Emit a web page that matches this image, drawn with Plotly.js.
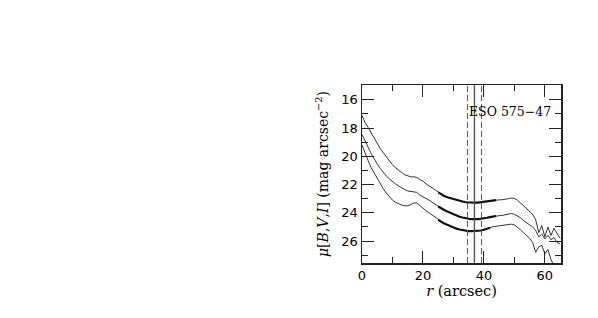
<!DOCTYPE html>
<html>
<head>
<meta charset="utf-8">
<script src="https://cdn.plot.ly/plotly-3.0.1.min.js"></script>
<style>
  html, body { margin: 0; padding: 0; background: #fff; }
  #profile { width: 598px; height: 318px; }
</style>
</head>
<body>
<div id="profile"></div>
<script>
// radius in arcsec, one sample per arcsec
var radius = [0,1,2,3,4,5,6,7,8,9,10,11,12,13,14,15,16,17,18,19,20,21,22,23,24,25,26,27,28,29,30,
    31,32,33,34,35,36,37,38,39,40,41,42,43,44,45,46,47,48,49,50,51,52,53,54,55,56,57,58,59,60,61,62,63,64,65];

// surface brightness profiles (mag arcsec^-2), top to bottom on the plot
var muI = [17.1,17.6,17.95,18.35,18.75,19.1,19.45,19.75,20.05,20.35,20.6,20.8,21.0,21.15,21.3,21.4,21.45,21.45,21.5,21.65,
    21.75,21.95,22.1,22.25,22.4,22.55,22.7,22.8,22.9,22.97,23.03,23.1,23.15,23.2,23.25,23.27,23.28,23.28,23.27,23.24,
    23.18,23.15,23.12,23.1,23.1,23.08,23.07,23.05,23.0,22.95,22.98,23.1,23.3,23.5,23.7,23.9,24.1,24.5,25.4,24.9,
    25.7,25.0,25.6,25.1,25.5,25.8];
var muV = [18.45,18.95,19.35,19.8,20.2,20.55,20.85,21.15,21.4,21.6,21.8,21.95,22.1,22.25,22.35,22.45,22.5,22.5,22.55,22.75,
    22.85,22.95,23.1,23.25,23.4,23.55,23.7,23.8,23.9,24.0,24.1,24.2,24.28,24.33,24.39,24.42,24.45,24.46,24.45,24.42,
    24.4,24.35,24.3,24.25,24.22,24.2,24.18,24.15,24.1,24.05,24.1,24.2,24.35,24.55,24.7,24.85,25.0,25.25,25.7,25.5,
    25.85,25.6,25.9,25.75,26.1,26.2];
var muB = [19.2,19.8,20.3,20.8,21.2,21.6,21.95,22.3,22.6,22.85,23.1,23.25,23.38,23.45,23.5,23.5,23.42,23.3,23.3,23.5,
    23.7,23.85,24.0,24.15,24.35,24.5,24.65,24.75,24.85,24.95,25.05,25.12,25.18,25.23,25.27,25.29,25.3,25.3,25.28,25.25,
    25.2,25.15,25.05,24.98,24.95,24.95,24.93,24.9,24.85,24.8,24.85,25.0,25.2,25.4,25.6,25.8,26.1,26.8,26.4,26.3,
    26.9,26.6,27.3,27.8,28.2,28.5];

// radial range drawn heavier on each profile
var fitStart = [25, 25, 25];
var fitEnd = [44, 44, 42];

// centre and bounds (arcsec)
var rCentre = 36.9;
var rBounds = [34.6, 39.2];

var galaxy = "ESO 575\u221247";

var profiles = [muI, muV, muB];

var traces = [];
profiles.forEach(function(mu) {
    traces.push({
        x: radius, y: mu, type: 'scatter', mode: 'lines',
        line: {color: '#333', width: 1}, hoverinfo: 'skip'
    });
});
profiles.forEach(function(mu, k) {
    var xs = [], ys = [];
    radius.forEach(function(r, i) {
        if (r >= fitStart[k] && r <= fitEnd[k]) { xs.push(r); ys.push(mu[i]); }
    });
    traces.push({
        x: xs, y: ys, type: 'scatter', mode: 'lines',
        line: {color: '#111', width: 2.2}, hoverinfo: 'skip'
    });
});

var shapes = [{
    type: 'line', xref: 'x', yref: 'paper', x0: rCentre, x1: rCentre, y0: 0, y1: 1,
    line: {color: '#555', width: 1.4}
}];
rBounds.forEach(function(b) {
    shapes.push({
        type: 'line', xref: 'x', yref: 'paper', x0: b, x1: b, y0: 0, y1: 1,
        line: {color: '#555', width: 1, dash: '6px,3px'}
    });
});

var axisCommon = {
    showgrid: false, zeroline: false, showline: true, linecolor: '#222', linewidth: 1.5,
    ticks: 'inside', ticklen: 12, tickwidth: 1, tickcolor: '#222', mirror: 'allticks',
    tickfont: {family: 'DejaVu Sans, Verdana, sans-serif', size: 13, color: '#000'}
};

var layout = {
    width: 598, height: 318,
    margin: {l: 362, r: 37, t: 85, b: 55},
    paper_bgcolor: '#fff', plot_bgcolor: '#fff',
    showlegend: false,
    xaxis: Object.assign({}, axisCommon, {
        range: [0, 65.3], dtick: 20, tick0: 0,
        minor: {dtick: 10, ticklen: 6, ticks: 'inside', tickcolor: '#222', showgrid: false},
        title: {text: '<i>r</i> (arcsec)', standoff: 1,
            font: {family: 'DejaVu Serif, serif', size: 14.5, color: '#000'}}
    }),
    yaxis: Object.assign({}, axisCommon, {
        range: [27.55, 14.95], dtick: 2, tick0: 0,
        minor: {dtick: 1, ticklen: 6, ticks: 'inside', tickcolor: '#222', showgrid: false},
        title: {text: '<i>\u03bc</i>[<i>B</i>,<i>V</i>,<i>I</i>] (mag arcsec<sup>\u22122</sup>)', standoff: 9,
            font: {family: 'DejaVu Serif, serif', size: 14, color: '#000'}}
    }),
    shapes: shapes,
    annotations: [{
        xref: 'paper', yref: 'paper', x: 0.96, y: 0.85, xanchor: 'right', yanchor: 'middle',
        text: galaxy, showarrow: false,
        font: {family: 'DejaVu Serif, serif', size: 12.5, color: '#000'}
    }]
};

Plotly.newPlot('profile', traces, layout, {displayModeBar: false, staticPlot: true});
</script>
</body>
</html>
